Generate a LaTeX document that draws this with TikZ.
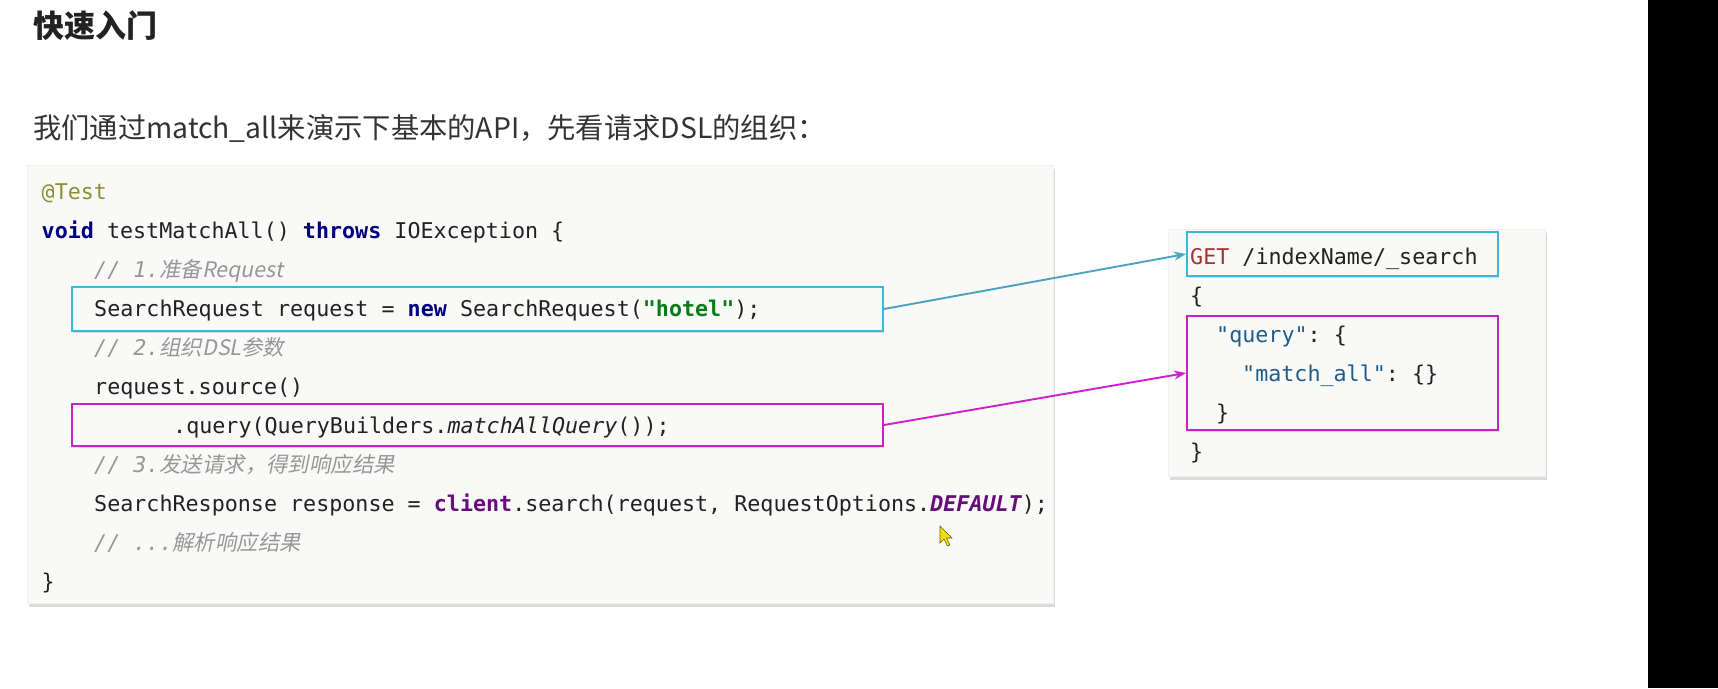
\documentclass[tikz,border=0pt]{standalone}
\usepackage{fontspec}
\setmonofont{DejaVu Sans Mono}
\newfontfamily\cjk{Noto Sans CJK SC}
\newfontfamily\cjkit[FakeSlant=0.2]{Noto Sans CJK SC}
\usetikzlibrary{shadows,arrows.meta}
\definecolor{panelfill}{HTML}{F9FAF7}
\definecolor{bluebox}{HTML}{3DB6DB}
\definecolor{bluearr}{HTML}{4BA3C3}
\definecolor{magbox}{HTML}{C624C2}
\definecolor{magarr}{HTML}{D020CC}
\definecolor{anno}{HTML}{8F8F2E}
\definecolor{kw}{HTML}{000080}
\definecolor{strg}{HTML}{067D17}
\definecolor{cmt}{HTML}{8C8C8C}
\definecolor{purp}{HTML}{660E7A}
\definecolor{jkey}{HTML}{1F5C8C}
\definecolor{getred}{HTML}{A83232}
\definecolor{txt}{HTML}{222222}
\newcommand\codefont{\fontsize{21.7}{26}\selectfont\ttfamily}
\newcommand\kwd[1]{\textcolor{kw}{\bfseries #1}}
\newcommand\strlit[1]{\textcolor{strg}{\bfseries #1}}
\newcommand\cmtcjk[1]{{\upshape\cjkit\fontsize{21.4}{25}\selectfont #1}}
\newcommand\jk[1]{\textcolor{jkey}{#1}}
\tikzset{
  panel/.style={fill=panelfill, draw=black!6, line width=0.6pt,
    drop shadow={shadow xshift=1.5pt, shadow yshift=-3.5pt, opacity=0.3, fill=black!45}},
  bluehl/.style={draw=bluebox, line width=2pt, fill=panelfill,
    drop shadow={shadow xshift=1pt, shadow yshift=-2pt, opacity=0.12, fill=black}},
  maghl/.style={draw=magbox, line width=2pt, fill=panelfill,
    drop shadow={shadow xshift=1pt, shadow yshift=-2pt, opacity=0.12, fill=black}},
  codeline/.style={anchor=base west, inner sep=0pt, font=\codefont, text=txt},
  cmtline/.style={codeline, text=cmt!90, font=\codefont\itshape},
  bluelink/.style={draw=bluearr, line width=1.9pt, -{Stealth[length=12pt,width=9pt]}},
  maglink/.style={draw=magarr, line width=1.9pt, -{Stealth[length=12pt,width=9pt]}},
}
\begin{document}
\begin{tikzpicture}[x=1pt,y=-1pt]
\path[use as bounding box, fill=white] (0,0) rectangle (1718,688);
\fill[black] (1648,0) rectangle (1718,688);

% headings
\node[anchor=base west, inner sep=0pt, text=txt, font=\cjk\bfseries\fontsize{31}{36}\selectfont] (title) at (33,37.5) {快速入门};
\node[anchor=base west, inner sep=0pt, text=black!80, font=\cjk\fontsize{28.3}{33}\selectfont] (subtitle) at (33,138.5) {我们通过match\_all来演示下基本的API，先看请求DSL的组织：};

% panels
\node[panel, minimum width=1026pt, minimum height=438pt, inner sep=0pt] (codebox) at (540,384) {};
\node[panel, minimum width=377pt, minimum height=247pt, inner sep=0pt] (dslbox) at (1356.5,352.5) {};

% highlight boxes
\node[bluehl, minimum width=811pt, minimum height=44pt, inner sep=0pt] (reqbox) at (477.5,309) {};
\node[maghl, minimum width=811pt, minimum height=42pt, inner sep=0pt] (qbox) at (477.5,425) {};
\node[bluehl, minimum width=311pt, minimum height=44pt, inner sep=0pt] (getbox) at (1342.5,254) {};
\node[maghl, minimum width=311pt, minimum height=114pt, inner sep=0pt] (jsonbox) at (1342.5,373) {};

% Java code
\node[codeline, text=anno] (l0) at (41.5,199.5) {@Test};
\node[codeline] (l1) at (41.5,238.5) {\kwd{void} testMatchAll() \kwd{throws} IOException \{};
\node[cmtline] (l2) at (94,277.5) {// 1.\cmtcjk{准备Request}};
\node[codeline] (l3) at (94,316.5) {SearchRequest request = \kwd{new} SearchRequest(\strlit{"hotel"});};
\node[cmtline] (l4) at (94,355.5) {// 2.\cmtcjk{组织DSL参数}};
\node[codeline] (l5) at (94,394.5) {request.source()};
\node[codeline] (l6) at (173,433.5) {.query(QueryBuilders.\textit{matchAllQuery}());};
\node[cmtline] (l7) at (94,472.5) {// 3.\cmtcjk{发送请求，得到响应结果}};
\node[codeline] (l8) at (94,511.5) {SearchResponse response = \textcolor{purp}{\bfseries client}.search(request, RequestOptions.\textcolor{purp}{\bfseries\itshape DEFAULT});};
\node[cmtline] (l9) at (94,550.5) {// ...\cmtcjk{解析响应结果}};
\node[codeline] (l10) at (41.5,589.5) {\}};

% DSL
\node[codeline] (r0) at (1190,264) {\textcolor{getred}{GET} /indexName/\_search};
\node[codeline] (r1) at (1190,303) {\{};
\node[codeline] (r2) at (1216,342) {\jk{"query"}: \{};
\node[codeline] (r3) at (1242,381) {\jk{"match\_all"}: \{\}};
\node[codeline] (r4) at (1216,420) {\}};
\node[codeline] (r5) at (1190,459) {\}};

% connectors
\draw[bluelink] (reqbox.east) -- (getbox.west);
\draw[maglink] (qbox.east) -- (jsonbox.west);

% mouse cursor
\filldraw[fill=yellow!85!olive, draw=olive!60!black, line width=0.6pt]
  (940,526) -- (940,543) -- (944,539) -- (947.5,546) -- (950,545) -- (946.5,538) -- (952,538) -- cycle;
\end{tikzpicture}
\end{document}
